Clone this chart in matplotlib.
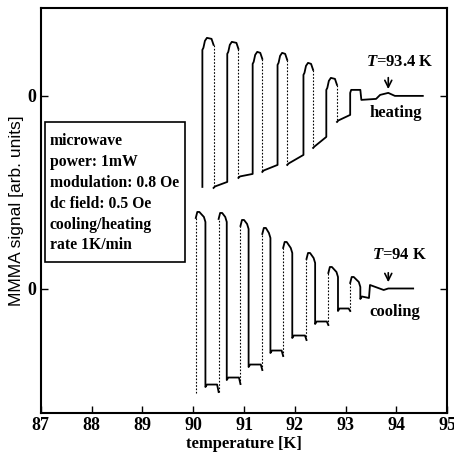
import numpy as np
import matplotlib.pyplot as plt
from matplotlib.patches import Rectangle

plt.rcParams['font.family'] = 'Liberation Serif'
plt.rcParams['font.weight'] = 'bold'
plt.rcParams['mathtext.fontset'] = 'custom'
plt.rcParams['mathtext.it'] = 'Liberation Serif:italic:bold'
plt.rcParams['mathtext.rm'] = 'Liberation Serif:bold'

# heating run (upper trace), signal relative to its own zero
h_rise = [90.18, 90.67, 91.17, 91.66, 92.17, 92.62, 93.09]
h_fall = [90.40, 90.89, 91.36, 91.85, 92.36, 92.83]
h_top = [5.8, 5.4, 4.4, 4.3, 3.3, 1.8, 0.6]
h_low_a = [-9.2, -8.2, -7.6, -6.9, -5.2, -2.6]
h_low_b = [-8.6, -7.8, -6.9, -5.9, -4.1, -1.9]
h_start = -9.1
h_tail_T = [93.29, 93.31, 93.60, 93.68, 93.84, 93.97, 94.52]
h_tail_S = [0.6, -0.4, -0.3, 0.1, 0.3, 0.0, 0.0]

# cooling run (lower trace)
c_rise = [90.05, 90.50, 90.93, 91.36, 91.77, 92.23, 92.66, 93.09]
c_fall = [90.24, 90.66, 91.09, 91.52, 91.95, 92.40, 92.85, 93.29]
c_top_a = [7.7, 7.6, 6.9, 6.1, 4.7, 3.6, 2.2, 1.2]
c_top_b = [7.2, 7.2, 6.5, 5.6, 4.1, 3.1, 1.7, 0.7]
c_low_a = [-9.8, -9.1, -7.8, -6.4, -4.9, -3.5, -2.2, -1.0]
c_low_b = [-10.3, -9.5, -8.1, -6.7, -5.1, -3.6, -2.2]
c_start = -10.4
c_tail_T = [93.46, 93.48, 93.75, 93.84, 94.33]
c_tail_S = [-0.9, 0.4, -0.1, 0.05, 0.05]

heat_offset = 19.3


def heating_segments():
    solid, dotted = [], []
    xs, ys = [h_rise[0]], [h_start]
    for i, r in enumerate(h_rise):
        t = h_top[i]
        if i < len(h_fall):
            f = h_fall[i]
            xs += [r, r + 0.02, r + 0.05, r + 0.09, f - 0.04, f]
            ys += [t - 1.2, t - 1.0, t - 0.3, t, t - 0.1, t - 0.7]
            solid.append((xs, ys))
            dotted.append(([f, f], [t - 0.7, h_low_a[i]]))
            xs = [f, f + 0.03, h_rise[i + 1]]
            ys = [h_low_a[i], h_low_a[i] + 0.15, h_low_b[i]]
        else:
            xs += [r, r + 0.02] + h_tail_T
            ys += [t - 0.3, t] + h_tail_S
            solid.append((xs, ys))
    return solid, dotted


def cooling_segments():
    solid, dotted = [], []
    prev = c_start
    for i, r in enumerate(c_rise):
        f, ta, tb, la = c_fall[i], c_top_a[i], c_top_b[i], c_low_a[i]
        dotted.append(([r, r], [prev, ta - 0.6]))
        xs = [r, r + 0.03, r + 0.07, f - 0.03, f, f, f + 0.03]
        ys = [ta - 0.6, ta, ta, tb, tb - 0.5, la, la + 0.25]
        if i < len(c_low_b):
            xs += [c_rise[i + 1] - 0.03, c_rise[i + 1]]
            ys += [la + 0.25, c_low_b[i]]
            prev = c_low_b[i]
        else:
            xs += c_tail_T
            ys += c_tail_S
        solid.append((xs, ys))
    return solid, dotted


fig = plt.figure(figsize=(4.54, 4.61), dpi=100)
ax = fig.add_axes([0.090, 0.104, 0.895, 0.879])

hs, hd = heating_segments()
for xs, ys in hs:
    ax.plot(xs, np.array(ys) + heat_offset, color='k', lw=1.3)
for xs, ys in hd:
    ax.plot(xs, np.array(ys) + heat_offset, color='k', lw=0.8, ls=(0, (1.5, 1.5)))
cs, cd = cooling_segments()
for xs, ys in cs:
    ax.plot(xs, ys, color='k', lw=1.3)
for xs, ys in cd:
    ax.plot(xs, ys, color='k', lw=0.8, ls=(0, (1.5, 1.5)))

# arrows and labels
arr = dict(arrowstyle='->,head_length=0.5,head_width=0.25', color='k', lw=1.2)
ax.annotate('', xy=(93.84, 19.7), xytext=(93.84, 21.4), arrowprops=arr)
ax.annotate('', xy=(93.84, 0.4), xytext=(93.84, 1.9), arrowprops=arr)
ax.text(94.07, 22.7, r'$T$=93.4 K', ha='center', va='center', fontsize=12)
ax.text(93.99, 17.6, 'heating', ha='center', va='center', fontsize=12)
ax.text(94.07, 3.4, r'$T$=94 K', ha='center', va='center', fontsize=12)
ax.text(93.97, -2.3, 'cooling', ha='center', va='center', fontsize=12)

# info box
ax.add_patch(Rectangle((0.010, 0.373), 0.345, 0.346, transform=ax.transAxes,
                       fill=False, ec='k', lw=1.2))
ax.text(0.022, 0.690, 'microwave\npower: 1mW\nmodulation: 0.8 Oe\ndc field: 0.5 Oe\n'
        'cooling/heating\nrate 1K/min', transform=ax.transAxes, ha='left', va='top',
        fontsize=11.3, linespacing=1.4)

ax.set_xlim(87, 95)
ax.set_ylim(-12.4, 28.1)
ax.set_xticks(range(87, 96))
ax.set_yticks([0, heat_offset])
ax.set_yticklabels(['0', '0'])
ax.tick_params(axis='x', direction='in', length=5, width=1, labelsize=13, pad=3)
ax.tick_params(axis='y', direction='in', length=5, width=1, labelsize=13, pad=3,
               right=True)
for s in ax.spines.values():
    s.set_linewidth(1.5)
ax.set_xlabel('temperature [K]', fontsize=12, weight='bold', labelpad=1)
ax.set_ylabel('MMMA signal [arb. units]', fontsize=12.5, family='Liberation Sans',
              weight='normal', labelpad=3)

fig.savefig('out.png', dpi=100)
